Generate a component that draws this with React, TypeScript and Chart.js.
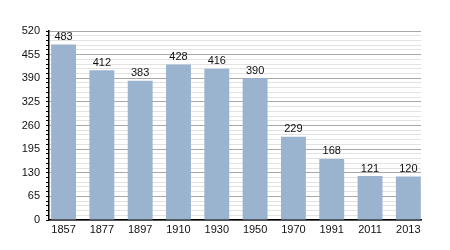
import React, { useEffect, useRef } from "react";
import { Chart, registerables } from "chart.js";

Chart.register(...registerables);

const years = ["1857", "1877", "1897", "1910", "1930", "1950", "1970", "1991", "2011", "2013"];
const population = [483, 412, 383, 428, 416, 390, 229, 168, 121, 120];
const yMax = 520;
const majorStep = 65;
const minorStep = 13;

const valueLabels = {
  id: "valueLabels",
  afterDatasetsDraw(chart: any) {
    const ctx = chart.ctx;
    const meta = chart.getDatasetMeta(0);
    ctx.save();
    ctx.font = "11px 'Liberation Sans', Arial, sans-serif";
    ctx.fillStyle = "#111";
    ctx.textAlign = "center";
    ctx.textBaseline = "bottom";
    meta.data.forEach((el: any, i: number) => {
      ctx.fillText(String(population[i]), el.x, el.y - 2);
    });
    ctx.restore();
  },
};

export default function App() {
  const ref = useRef<HTMLCanvasElement>(null);
  useEffect(() => {
    const chart = new Chart(ref.current!, {
      type: "bar",
      data: {
        datasets: [
          {
            data: population.map((v, i) => ({ x: i, y: v })),
            backgroundColor: "#9ab3cf",
            borderWidth: 0,
            barPercentage: 0.65,
            categoryPercentage: 1,
          },
        ],
      },
      options: {
        animation: false,
        responsive: false,
        layout: { padding: { top: 31, right: 29, left: 0, bottom: 0 } },
        plugins: { legend: { display: false }, tooltip: { enabled: false } },
        scales: {
          x: {
            type: "linear",
            offset: false,
            min: -0.38,
            max: 9.33,
            grid: { display: false, drawTicks: false, offset: false },
            border: { color: "#000", width: 1.5 },
            ticks: {
              stepSize: 1,
              includeBounds: false,
              autoSkip: false,
              color: "#111",
              font: { family: "'Liberation Sans', Arial, sans-serif", size: 11 },
              padding: 3,
              maxRotation: 0,
              callback: (v: any) => (Number.isInteger(Number(v)) ? years[Number(v)] ?? "" : ""),
            },
            afterFit(scale: any) {
              scale.height = 30;
            },
          },
          y: {
            min: 0,
            max: yMax,
            border: { color: "#000", width: 1.5 },
            grid: {
              color: (c: any) => (c.tick && c.tick.value % majorStep === 0 ? "#a8a8a8" : "#e2e2e2"),
              tickColor: "#000",
              tickLength: (c: any) => (c.tick && c.tick.value % majorStep === 0 ? 5 : 3),
              lineWidth: 1,
            },
            ticks: {
              stepSize: minorStep,
              autoSkip: false,
              color: "#111",
              padding: 6,
              font: { family: "'Liberation Sans', Arial, sans-serif", size: 11 },
              callback: (v: any) => (Number(v) % majorStep === 0 ? String(v) : ""),
            },
            afterFit(scale: any) {
              scale.width = 49;
            },
          },
        },
      } as any,
      plugins: [valueLabels],
    });
    return () => chart.destroy();
  }, []);
  return (
    <div style={{ position: "fixed", left: 0, top: 0, width: 450, height: 250, background: "#fff" }}>
      <canvas ref={ref} width={450} height={250} />
    </div>
  );
}
